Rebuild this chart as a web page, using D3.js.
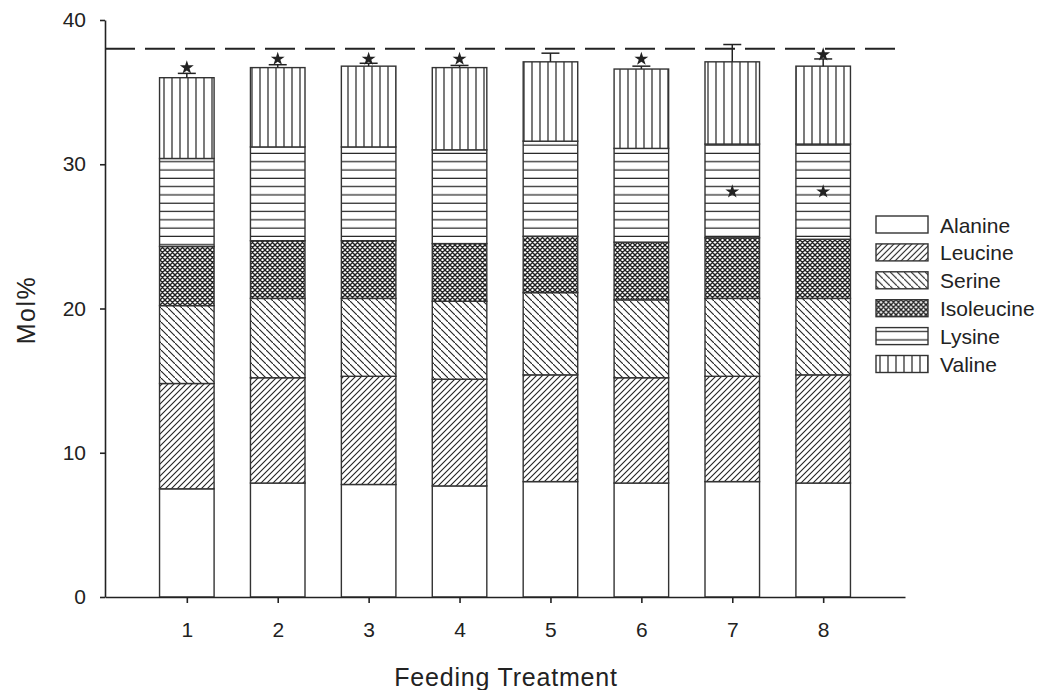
<!DOCTYPE html>
<html>
<head>
<meta charset="utf-8">
<script src="https://cdnjs.cloudflare.com/ajax/libs/d3/7.8.5/d3.min.js"></script>
<style>
	body { margin: 0; background: #fff; }
	svg { display: block; font-family: "Liberation Sans", Arial, sans-serif; }
	.axis text { font-size: 21px; fill: #222; }
	.axis path, .axis line { stroke: #222; stroke-width: 1.6; }
</style>
</head>
<body>
<script>
var treatments = [1, 2, 3, 4, 5, 6, 7, 8];
var seriesNames = ['Alanine', 'Leucine', 'Serine', 'Isoleucine', 'Lysine', 'Valine'];

var alanine    = [7.5, 7.9, 7.8, 7.7, 8.0, 7.9, 8.0, 7.9];
var leucine    = [7.3, 7.3, 7.5, 7.4, 7.4, 7.3, 7.3, 7.5];
var serine     = [5.4, 5.5, 5.4, 5.4, 5.7, 5.4, 5.4, 5.3];
var isoleucine = [4.1, 4.0, 4.0, 4.0, 3.9, 4.0, 4.2, 4.1];
var lysine     = [6.1, 6.5, 6.5, 6.5, 6.6, 6.5, 6.5, 6.6];
var valine     = [5.6, 5.5, 5.6, 5.7, 5.5, 5.5, 5.7, 5.4];

var totalErrors = [0.3, 0.2, 0.2, 0.15, 0.6, 0.2, 1.2, 0.5];
var referenceLine = 38;

var starTreatments = [1, 2, 3, 4, 6, 8, 7, 8];
var starValues     = [36.7, 37.3, 37.3, 37.3, 37.3, 37.6, 28.1, 28.1];

var yTicks = [0, 10, 20, 30, 40];

var seriesValues = [alanine, leucine, serine, isoleucine, lysine, valine];
var patternIds = ['p-alanine', 'p-leucine', 'p-serine', 'p-isoleucine', 'p-lysine', 'p-valine'];

var width = 1043, height = 690;

var svg = d3.select("body").append("svg")
	.attr("width", width)
	.attr("height", height);

// hatch patterns
var defs = svg.append("defs");

function addPattern(id, w, h, d, sw) {
	var p = defs.append("pattern")
		.attr("id", id)
		.attr("patternUnits", "userSpaceOnUse")
		.attr("width", w)
		.attr("height", h);
	p.append("rect").attr("width", w).attr("height", h).attr("fill", "#fff");
	if(d) {
		p.append("path")
			.attr("d", d)
			.attr("stroke", "#222")
			.attr("stroke-width", sw)
			.attr("fill", "none");
	}
}

addPattern('p-alanine', 4, 4, null, 0);
addPattern('p-leucine', 6, 6, "M-1,1 l2,-2 M0,6 l6,-6 M5,7 l2,-2", 1.1);
addPattern('p-serine', 7, 7, "M-1,-1 l2,2 M0,0 l7,7 M6,6 l2,2", 1.1);
addPattern('p-isoleucine', 5, 5, "M-1,1 l2,-2 M0,5 l5,-5 M4,6 l2,-2 M-1,-1 l2,2 M0,0 l5,5 M4,4 l2,2", 1.4);
addPattern('p-lysine', 8, 8.3, "M0,4 h8", 1.2);
addPattern('p-valine', 8, 8, "M4,0 v8", 1.2);

var x = d3.scaleLinear().domain([0.1, 8.9]).range([105, 905]);
var y = d3.scaleLinear().domain([0, 40]).range([597, 20]);
var barW = x(0.6) - x(0);

// stack
var rows = treatments.map(function(t, i) {
	var row = {treatment: t};
	seriesNames.forEach(function(name, j) {
		row[name] = seriesValues[j][i];
	});
	return row;
});

var stacked = d3.stack().keys(seriesNames)(rows);

var g = svg.append("g");

stacked.forEach(function(layer, j) {
	g.selectAll(".seg-" + j)
		.data(layer)
		.enter().append("rect")
			.attr("class", "seg-" + j)
			.attr("x", function(d) { return x(d.data.treatment) - barW / 2; })
			.attr("y", function(d) { return y(d[1]); })
			.attr("width", barW)
			.attr("height", function(d) { return y(d[0]) - y(d[1]); })
			.attr("fill", "url(#" + patternIds[j] + ")")
			.attr("stroke", "#333")
			.attr("stroke-width", 1.4);
});

// error bars on totals
var tops = stacked[stacked.length - 1];
tops.forEach(function(d, i) {
	var xc = x(d.data.treatment),
			top = d[1],
			cap = top + totalErrors[i];
	g.append("line")
		.attr("x1", xc).attr("x2", xc)
		.attr("y1", y(top)).attr("y2", y(cap))
		.attr("stroke", "#222").attr("stroke-width", 1.5);
	g.append("line")
		.attr("x1", xc - 9).attr("x2", xc + 9)
		.attr("y1", y(cap)).attr("y2", y(cap))
		.attr("stroke", "#222").attr("stroke-width", 1.5);
});

// dashed reference line
g.append("line")
	.attr("x1", x(0.1)).attr("x2", x(8.9))
	.attr("y1", y(referenceLine)).attr("y2", y(referenceLine))
	.attr("stroke", "#222")
	.attr("stroke-width", 2)
	.attr("stroke-dasharray", "30,10");

// significance stars
var star = d3.symbol().type(d3.symbolStar).size(60);
starTreatments.forEach(function(t, i) {
	g.append("path")
		.attr("d", star)
		.attr("transform", "translate(" + x(t) + "," + y(starValues[i]) + ")")
		.attr("fill", "#222");
});

// axes
var xAxis = d3.axisBottom(x)
	.tickValues(treatments)
	.tickFormat(d3.format("d"))
	.tickSize(6)
	.tickSizeOuter(0)
	.tickPadding(19);

var yAxis = d3.axisLeft(y)
	.tickValues(yTicks)
	.tickSize(5)
	.tickSizeOuter(0)
	.tickPadding(14);

svg.append("g")
	.attr("class", "axis axis--x")
	.attr("transform", "translate(0," + y(0) + ")")
	.call(xAxis);

svg.append("g")
	.attr("class", "axis axis--y")
	.attr("transform", "translate(" + x(0.1) + ",0)")
	.call(yAxis);

// axis titles
svg.append("text")
	.attr("x", 506)
	.attr("y", 686)
	.attr("text-anchor", "middle")
	.attr("font-size", 25)
	.attr("letter-spacing", 0.8)
	.attr("fill", "#222")
	.text("Feeding Treatment");

svg.append("text")
	.attr("transform", "translate(35,310) rotate(-90)")
	.attr("text-anchor", "middle")
	.attr("font-size", 25)
	.attr("letter-spacing", 1.5)
	.attr("fill", "#222")
	.text("Mol%");

// legend
var legend = svg.append("g")
	.attr("class", "legend")
	.attr("transform", "translate(876,216)");

seriesNames.forEach(function(name, j) {
	var row = legend.append("g")
		.attr("transform", "translate(0," + (j * 27.9) + ")");
	row.append("rect")
		.attr("width", 52)
		.attr("height", 17)
		.attr("fill", "url(#" + patternIds[j] + ")")
		.attr("stroke", "#333")
		.attr("stroke-width", 1.4);
	row.append("text")
		.attr("x", 64)
		.attr("y", 9)
		.attr("dy", "0.36em")
		.attr("font-size", 21)
		.attr("fill", "#222")
		.text(name);
});
</script>
</body>
</html>
